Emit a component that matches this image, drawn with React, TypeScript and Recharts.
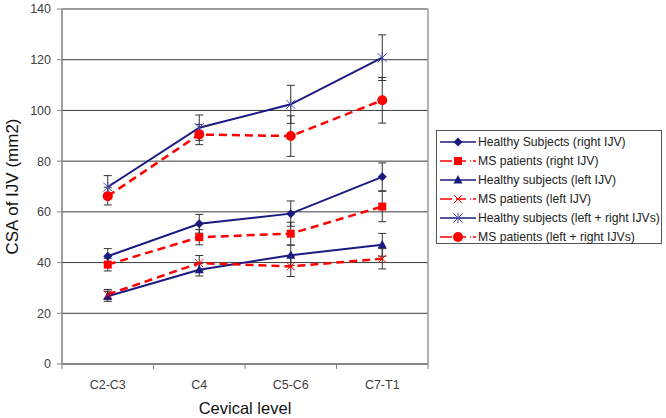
import React from "react";
import { LineChart, Line, XAxis, YAxis, CartesianGrid, ErrorBar, ReferenceLine } from "recharts";

const categories = ["C2-C3", "C4", "C5-C6", "C7-T1"];
const yTicks = [0, 20, 40, 60, 80, 100, 120, 140];

const healthyRight = [42.5, 55.3, 59.3, 73.8];
const healthyRightErr = [3, 3.7, 5, 5.5];
const msRight = [39.2, 50, 51.4, 62.1];
const msRightErr = [2.5, 3, 4.5, 6];
const healthyLeft = [26.7, 37.2, 42.9, 47];
const healthyLeftErr = [2, 2.5, 4, 4.5];
const msLeft = [27.4, 39.8, 38.5, 41.5];
const msLeftErr = [2, 3, 4, 4];
const healthyBoth = [69.8, 93.2, 102.4, 120.8];
const healthyBothErr = [4.5, 5, 7.5, 9];
const msBoth = [66.2, 90.5, 89.9, 104];
const msBothErr = [3.5, 4, 8, 9];

const data = categories.map((c, i) => ({
  cat: c,
  x: i + 0.5,
  hR: healthyRight[i], hRe: healthyRightErr[i],
  mR: msRight[i], mRe: msRightErr[i],
  hL: healthyLeft[i], hLe: healthyLeftErr[i],
  mL: msLeft[i], mLe: msLeftErr[i],
  hB: healthyBoth[i], hBe: healthyBothErr[i],
  mB: msBoth[i], mBe: msBothErr[i],
}));

const NAVY = "#1a1a80";
const RED = "#ff0000";
const FONT = "'Liberation Sans', Arial, sans-serif";

const W = 666, H = 418;
const PLOT_L = 62, PLOT_R = 428, PLOT_T = 9, PLOT_B = 364;
const BAND = (PLOT_R - PLOT_L) / categories.length;

type Shape = "diamond" | "square" | "triangle" | "x" | "star" | "circle";

const Marker = ({ shape, cx, cy }: { shape: Shape; cx: number; cy: number }) => {
  if (cx == null || cy == null) return null;
  switch (shape) {
    case "diamond":
      return <polygon points={`${cx},${cy - 4.5} ${cx + 4.5},${cy} ${cx},${cy + 4.5} ${cx - 4.5},${cy}`} fill={NAVY} />;
    case "square":
      return <rect x={cx - 4} y={cy - 4} width={8} height={8} fill={RED} />;
    case "triangle":
      return <polygon points={`${cx},${cy - 5} ${cx + 4.5},${cy + 3.5} ${cx - 4.5},${cy + 3.5}`} fill={NAVY} />;
    case "x":
      return (
        <g stroke={RED} strokeWidth={1}>
          <line x1={cx - 4} y1={cy - 4} x2={cx + 4} y2={cy + 4} />
          <line x1={cx - 4} y1={cy + 4} x2={cx + 4} y2={cy - 4} />
        </g>
      );
    case "star":
      return (
        <g stroke="#4a4ab0" strokeWidth={1}>
          <line x1={cx - 4.5} y1={cy - 4.5} x2={cx + 4.5} y2={cy + 4.5} />
          <line x1={cx - 4.5} y1={cy + 4.5} x2={cx + 4.5} y2={cy - 4.5} />
          <line x1={cx} y1={cy - 5} x2={cx} y2={cy + 5} />
        </g>
      );
    case "circle":
      return <circle cx={cx} cy={cy} r={5} fill={RED} />;
  }
  return null;
};

const series: { key: string; err: string; name: string; color: string; dashed: boolean; shape: Shape }[] = [
  { key: "hR", err: "hRe", name: "Healthy Subjects (right IJV)", color: NAVY, dashed: false, shape: "diamond" },
  { key: "mR", err: "mRe", name: "MS patients (right IJV)", color: RED, dashed: true, shape: "square" },
  { key: "hL", err: "hLe", name: "Healthy subjects (left IJV)", color: NAVY, dashed: false, shape: "triangle" },
  { key: "mL", err: "mLe", name: "MS patients (left IJV)", color: RED, dashed: true, shape: "x" },
  { key: "hB", err: "hBe", name: "Healthy subjects (left + right IJVs)", color: NAVY, dashed: false, shape: "star" },
  { key: "mB", err: "mBe", name: "MS patients (left + right IJVs)", color: RED, dashed: true, shape: "circle" },
];

const XTick = (props: any) => {
  const { x, y, payload } = props;
  const i = payload.value;
  if (i >= categories.length) return null;
  return (
    <text x={x + BAND / 2} y={y + 18} textAnchor="middle" fontSize={12.5} fill="#404040" fontFamily={FONT}>
      {categories[i]}
    </text>
  );
};

const LegendBox = () => (
  <div
    style={{
      position: "absolute",
      left: 436,
      top: 130,
      border: "1px solid #555",
      background: "#fff",
      width: 226,
      height: 114,
      boxSizing: "border-box",
      fontFamily: FONT,
      fontSize: 12.2,
      color: "#222",
      paddingTop: 1,
    }}
  >
    {series.map((s) => (
      <div key={s.key} style={{ display: "flex", alignItems: "center", height: 19.1 }}>
        <svg width={41} height={14} style={{ flex: "none" }}>
          <line
            x1={3}
            y1={7}
            x2={39}
            y2={7}
            stroke={s.color}
            strokeWidth={1.5}
            strokeDasharray={s.dashed ? "12 4 10 4 1 2" : undefined}
          />
          <Marker shape={s.shape} cx={21} cy={7} />
        </svg>
        <span style={{ whiteSpace: "nowrap" }}>{s.name}</span>
      </div>
    ))}
  </div>
);

export default function App() {
  return (
    <div style={{ position: "absolute", left: 0, top: 0, width: W, height: H, background: "#fff" }}>
      <LineChart
        width={W}
        height={H}
        data={data}
        margin={{ top: PLOT_T, right: W - PLOT_R, left: 0, bottom: 0 }}
      >
        <CartesianGrid horizontal vertical={false} stroke="#3a3a3a" strokeWidth={1} />
        <ReferenceLine y={140} stroke="#9a9a9a" strokeWidth={1.5} />
        <ReferenceLine x={4} stroke="#9a9a9a" strokeWidth={1.5} />
        <XAxis
          dataKey="x"
          type="number"
          domain={[0, 4]}
          ticks={[0, 1, 2, 3, 4]}
          height={H - PLOT_B}
          tickSize={5}
          axisLine={{ stroke: "#808080", strokeWidth: 1.5 }}
          tickLine={{ stroke: "#808080" }}
          tick={<XTick />}
          interval={0}
          label={{
            content: (p: any) => (
              <text
                x={p.viewBox.x + p.viewBox.width / 2}
                y={414}
                textAnchor="middle"
                fontSize={16.5}
                fill="#111"
                fontFamily={FONT}
              >
                Cevical level
              </text>
            ),
          }}
        />
        <YAxis
          type="number"
          domain={[0, 140]}
          ticks={yTicks}
          width={PLOT_L}
          tickSize={5}
          tickMargin={6}
          interval={0}
          axisLine={{ stroke: "#808080", strokeWidth: 1.5 }}
          tickLine={{ stroke: "#808080" }}
          tick={{ fontSize: 12.5, fill: "#404040", fontFamily: FONT }}
          label={{
            content: (p: any) => {
              const cy = p.viewBox.y + p.viewBox.height / 2;
              return (
                <text
                  x={12}
                  y={cy}
                  transform={`rotate(-90, 12, ${cy})`}
                  textAnchor="middle"
                  dominantBaseline="central"
                  fontSize={17}
                  fill="#111"
                  fontFamily={FONT}
                >
                  CSA of IJV (mm2)
                </text>
              );
            },
          }}
        />
        {series.map((s) => (
          <Line
            key={s.key}
            dataKey={s.key}
            name={s.name}
            type="linear"
            stroke={s.color}
            strokeWidth={s.dashed ? 2.5 : 2}
            strokeDasharray={s.dashed ? "8 5" : undefined}
            isAnimationActive={false}
            dot={(p: any) => <Marker key={`${s.key}-${p.index}`} shape={s.shape} cx={p.cx} cy={p.cy} />}
            activeDot={false}
          >
            <ErrorBar dataKey={s.err} direction="y" width={4} stroke="#333" strokeWidth={1} />
          </Line>
        ))}
      </LineChart>
      <LegendBox />
    </div>
  );
}
